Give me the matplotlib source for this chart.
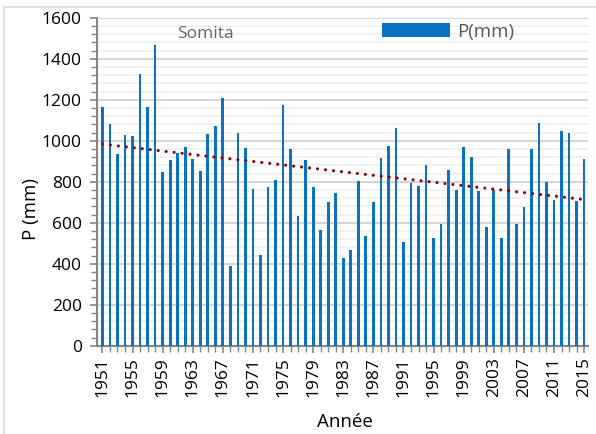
import numpy as np
import matplotlib.pyplot as plt
from matplotlib.ticker import MultipleLocator
from matplotlib.patches import Rectangle

# annual rainfall at Somita, 1951-2015
years = list(range(1951, 2016))
precip = [1165, 1081, 937, 1028, 1024, 1324, 1166, 1467, 850, 906,
          943, 969, 912, 855, 1032, 1073, 1208, 390, 1037, 963,
          764, 444, 774, 810, 1177, 958, 633, 906, 776, 564,
          701, 745, 431, 467, 803, 537, 701, 915, 976, 1062,
          509, 793, 780, 880, 525, 595, 860, 758, 972, 920,
          753, 580, 761, 527, 959, 595, 678, 959, 1086, 798,
          711, 1049, 1036, 707, 912]
year_ticks = list(range(1951, 2016, 4))

plt.rcParams['font.family'] = ['Open Sans', 'DejaVu Sans']

fig = plt.figure(figsize=(5.96, 4.34), dpi=100)
ax = fig.add_axes([0.163, 0.203, 0.824, 0.756])

# chart frame
fig.patches.append(Rectangle((4 / 596, -0.1), 1.2, (427 / 434) + 0.1,
                             transform=fig.transFigure, fill=False,
                             edgecolor='#d9d9d9', lw=1.2, zorder=0))

ax.bar(years, precip, width=0.36, color='#0a72c4', label='P(mm)', zorder=3)

# linear trend
coef = np.polyfit(years, precip, 1)
x = np.array(years)
ax.plot(x, np.polyval(coef, x), color='#8b0a0a', lw=2.3,
        linestyle=(0, (0.01, 2.5)), dash_capstyle='round', zorder=4)

ax.set_xlim(1950.3, 2015.55)
ax.set_ylim(0, 1600)
ax.yaxis.set_major_locator(MultipleLocator(200))
ax.yaxis.set_minor_locator(MultipleLocator(40))
ax.set_xticks(year_ticks)
ax.set_xticklabels([str(y) for y in year_ticks], rotation=90)
ax.xaxis.set_minor_locator(MultipleLocator(1))

ax.grid(axis='y', which='major', color='#d4d4d4', lw=1.4, zorder=1)
ax.grid(axis='y', which='minor', color='#efefef', lw=1.2, zorder=0)

for s in ['top', 'right']:
    ax.spines[s].set_visible(False)
for s in ['left', 'bottom']:
    ax.spines[s].set_color('#858585')
    ax.spines[s].set_linewidth(1.5)

ax.tick_params(axis='both', which='major', labelsize=12.5, colors='#858585',
               labelcolor='black', length=5, width=1.2, direction='out')
ax.tick_params(axis='both', which='minor', colors='#858585', length=4, width=1.0)
ax.tick_params(axis='y', pad=6)
ax.tick_params(axis='x', pad=3)

ax.set_xlabel('Année', fontsize=13.5, va='center', ha='center')
ax.xaxis.set_label_coords(0.505, -0.232)
ax.set_ylabel('P (mm)', fontsize=13.5, va='center', ha='center')
ax.yaxis.set_label_coords(-0.134, 0.418)

fig.text(205 / 596, (434 - 34) / 434, 'Somita', fontsize=12.5, color='#666666',
         ha='center', va='center')

ax.legend(loc='center left', bbox_to_anchor=(382 / 596, (434 - 31.5) / 434),
          bbox_transform=fig.transFigure, frameon=False, fontsize=13.5,
          handlelength=3.6, handleheight=0.7, handletextpad=0.4,
          borderpad=0, borderaxespad=0, labelcolor='#595959')

fig.savefig('out.png', dpi=100)
